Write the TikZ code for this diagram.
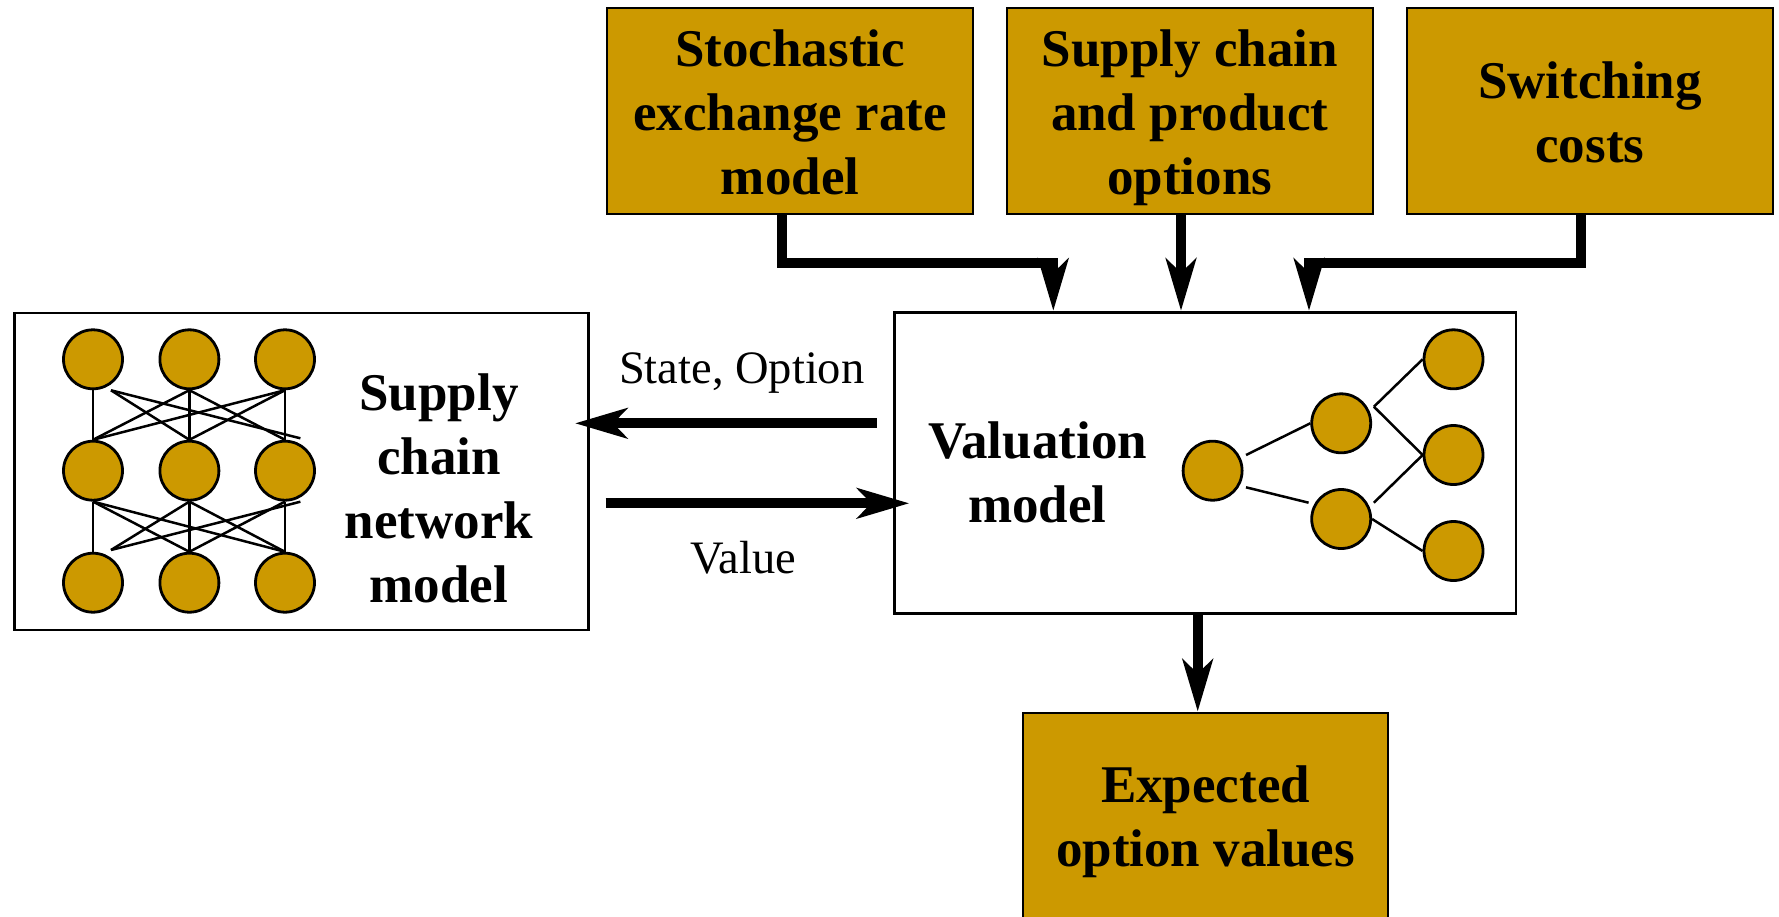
\documentclass[tikz,border=0pt]{standalone}
\usepackage{fontspec}
\setmainfont{Liberation Serif}
\usetikzlibrary{arrows.meta,calc}
\definecolor{gold}{RGB}{204,153,0}
\begin{document}
\begin{tikzpicture}[x=1pt,y=-1pt,
  box/.style={draw=black, inner sep=0pt, anchor=center},
  goldbox/.style={box, line width=2.2pt, fill=gold},
  whitebox/.style={box, line width=2.8pt, fill=white},
  btext/.style={font=\fontsize{53}{64}\selectfont\bfseries, align=center, inner sep=0pt},
  ltext/.style={font=\fontsize{46.5}{56}\selectfont, inner sep=0pt, anchor=base},
  dot/.style={circle, draw=black, line width=2.8pt, fill=gold, minimum size=59pt, inner sep=0pt},
  wire/.style={line width=2.5pt},
  bigarrow/.style={line width=10pt, -{Stealth[length=52pt,width=30pt,inset=14pt]}},
]
\useasboundingbox (0,0) rectangle (1779,916);

% top boxes
\node[goldbox, minimum width=366pt, minimum height=206pt] (sto) at (790.1,110.6) {};
\node[btext] (stot) at (790.1,118) {\strut Stochastic\\exchange rate\\model\strut};
\node[goldbox, minimum width=366pt, minimum height=206pt] (sup) at (1189.7,110.6) {};
\node[btext] (supt) at (1189.7,118) {\strut Supply chain\\and product\\options\strut};
\node[goldbox, minimum width=366pt, minimum height=206pt] (swi) at (1589.9,110.6) {};
\node[btext] (swit) at (1589.9,117.5) {\strut Switching\\costs\strut};

% left box
\node[whitebox, minimum width=574pt, minimum height=317pt] (net) at (301.5,471.4) {};
\node[btext] (nett) at (439,493.2) {\strut Supply\\chain\\network\\model\strut};

% valuation box
\node[whitebox, minimum width=621.7pt, minimum height=301pt] (val) at (1205.2,462.8) {};
\node[btext] (valt) at (1037.5,477.2) {\strut Valuation\\model\strut};

% expected box
\node[goldbox, btext, minimum width=365.6pt, minimum height=217.3pt] (exp) at (1205.5,821.4) {\strut Expected\\option values\strut};

% network circles
\foreach \c/\x in {1/93,2/189.4,3/285}
  \foreach \r/\y in {1/359.3,2/470.7,3/582.7}
    \node[dot] (n\r\c) at (\x,\y) {};

% network wires top -> middle
\draw[wire] (n11.south) -- (n21.north);
\draw[wire] (n12.south) -- (n22.north);
\draw[wire] (n13.south) -- (n23.north);
\draw[wire] ($(n11)+(18,31)$) -- (n22.north);
\draw[wire] ($(n11)+(18,31)$) -- ($(n23)+(15.4,-32.4)$);
\draw[wire] (n12.south) -- (n21.north);
\draw[wire] (n12.south) -- (n23.north);
\draw[wire] (n13.south) -- (n21.north);
\draw[wire] (n13.south) -- (n22.north);
% middle -> bottom
\draw[wire] (n21.south) -- (n31.north);
\draw[wire] (n22.south) -- (n32.north);
\draw[wire] (n23.south) -- (n33.north);
\draw[wire] (n21.south) -- (n32.north);
\draw[wire] (n21.south) -- (n33.north);
\draw[wire] (n22.south) -- ($(n31)+(18,-32.7)$);
\draw[wire] (n22.south) -- (n33.north);
\draw[wire] ($(n23)+(15.4,31)$) -- ($(n31)+(18,-32.7)$);
\draw[wire] (n23.south) -- (n32.north);

% tree
\node[dot] (r) at (1212.6,470.7) {};
\node[dot] (u) at (1341.2,423.3) {};
\node[dot] (l) at (1341.2,519) {};
\node[dot] (t1) at (1453.5,359.3) {};
\node[dot] (t2) at (1453.5,455) {};
\node[dot] (t3) at (1453.5,551) {};
\draw[wire] ($(r)+(33.4,-15.7)$) -- (u.west);
\draw[wire] ($(r)+(33.4,16.6)$) -- ($(l)+(-32.6,-16.3)$);
\draw[wire] ($(u)+(32.7,-16.6)$) -- (t1.west);
\draw[wire] ($(u)+(32.7,-16.6)$) -- (t2.west);
\draw[wire] ($(l)+(32.7,-16.3)$) -- (t2.west);
\draw[wire] (l.east) -- (t3.west);

% arrows from top boxes
\coordinate (ca) at (1053.3,263.3);
\coordinate (cb) at (1181,263.3);
\coordinate (cc) at (1309,263.3);
\draw[bigarrow] ([xshift=-8.4pt]sto.south) |- (ca) -- (ca |- val.north);
\draw[bigarrow] (sup.south -| cb) -- (cb |- val.north);
\draw[bigarrow] ([xshift=-8.9pt]swi.south) |- (cc) -- (cc |- val.north);

% valuation -> expected
\draw[bigarrow] ([xshift=-7.5pt]val.south) -- ([xshift=-7.8pt]exp.north);

% horizontal arrows
\coordinate (sa) at (876.7,423.3);
\coordinate (sb) at (575,423.3);
\coordinate (va) at (605.7,503.3);
\coordinate (vb) at (909.3,503.3);
\draw[bigarrow] (sa) -- (sb);
\draw[bigarrow] (va) -- (vb);
\node[ltext] (lso) at (741.7,383.3) {State, Option};
\node[ltext] (lv) at (743.3,573.3) {Value};
\end{tikzpicture}
\end{document}
